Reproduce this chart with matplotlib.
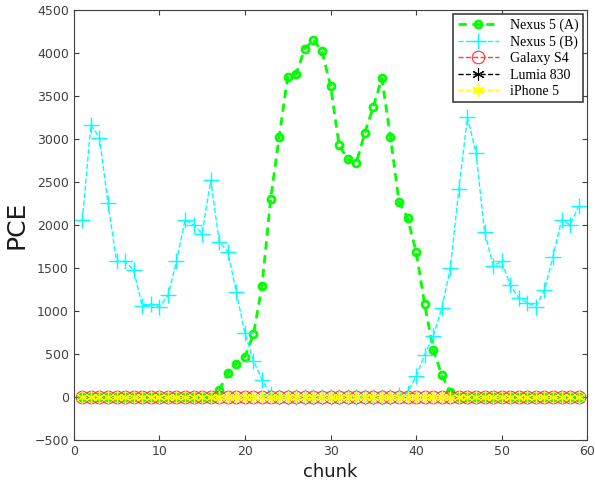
import numpy as np
import matplotlib.pyplot as plt

# chunk index
chunk = np.arange(1, 60)

# PCE por dispositivo
nexus_a = [0, 0, 0, 0, 0, 0, 0, 0, 0, 0,
           0, 0, 0, 0, 0, 0, 80, 275, 385, 470,
           730, 1295, 2300, 3025, 3720, 3760, 4050, 4150, 4020, 3620,
           2930, 2765, 2720, 3065, 3375, 3705, 3025, 2270, 2080, 1690,
           1080, 550, 255, 60, 0, 0, 0, 0, 0, 0,
           0, 0, 0, 0, 0, 0, 0, 0, 0]
nexus_b = [2055, 3165, 3015, 2250, 1575, 1575, 1475, 1055, 1080, 1050,
           1180, 1575, 2060, 2000, 1900, 2520, 1805, 1690, 1215, 740,
           420, 200, 30, 0, 0, 0, 0, 0, 0, 0,
           0, 0, 0, 0, 0, 0, 0, 20, 50, 240,
           490, 710, 1030, 1495, 2420, 3250, 2840, 1920, 1525, 1575,
           1300, 1150, 1095, 1050, 1245, 1630, 2060, 2000, 2220]
galaxy_s4 = [0] * 59
lumia_830 = [0] * 59
iphone_5 = [0] * 59

# asterisco estilo matlab
ast = (6, 2, 0)

fig = plt.figure(figsize=(5.95, 4.93), dpi=100)
ax = fig.add_axes([0.124, 0.1075, 0.863, 0.8725])

ax.plot(chunk, nexus_a, '--o', color='#00ff00', lw=2, ms=5, mew=2,
        mfc='none', dashes=(3, 2), label='Nexus 5 (A)')
ax.plot(chunk, nexus_b, '--+', color='#00ffff', lw=1, ms=12, mew=1,
        label='Nexus 5 (B)')
ax.plot(chunk, galaxy_s4, '--o', color='#ff4040', lw=1, ms=9, mew=0.9,
        mfc='none', label='Galaxy S4')
ax.plot(chunk, lumia_830, '--', marker=ast, color='black', lw=1, ms=9, mew=0.8,
        label='Lumia 830')
ax.plot(chunk, iphone_5, '--', marker=ast, color='#ffff00', lw=1, ms=9, mew=1,
        label='iPhone 5')

ax.set_xlim(0, 60)
ax.set_ylim(-500, 4500)
ax.set_xticks(np.arange(0, 61, 10))
ax.set_yticks(np.arange(-500, 4501, 500))
ax.tick_params(direction='in', top=True, right=True, labelsize=9,
               labelcolor='#404040', color='#404040')
for s in ax.spines.values():
    s.set_color('#404040')

ax.set_xlabel('chunk', fontsize=13, color='#1a1a1a')
ax.set_ylabel('PCE', fontsize=18, color='#1a1a1a')

leg = ax.legend(loc='upper right', prop={'family': 'Liberation Serif', 'size': 10},
                fancybox=False, edgecolor='#404040', framealpha=1,
                handlelength=3, borderpad=0.3, labelspacing=0.25,
                borderaxespad=0.3)
leg.get_frame().set_linewidth(1.2)

fig.savefig('out.png', dpi=100)
